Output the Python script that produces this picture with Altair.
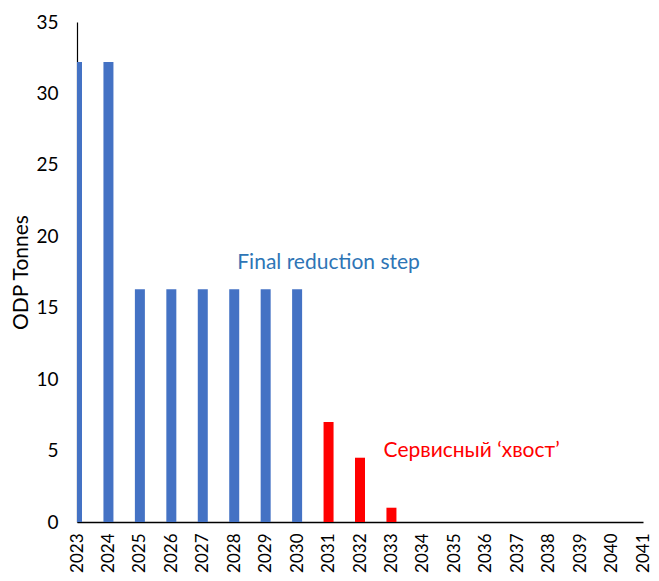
import altair as alt
import pandas as pd

years = list(range(2023, 2034))
values = [32.2, 32.2, 16.3, 16.3, 16.3, 16.3, 16.3, 16.3, 7.0, 4.5, 1.0]
groups = ["phase"] * 8 + ["tail"] * 3

tick_years = list(range(2023, 2042))
y_ticks = [0, 5, 10, 15, 20, 25, 30, 35]

ann_text = ["Final reduction step", "Сервисный ‘хвост’"]
ann_x = [2031.0, 2035.55]
ann_y = [18.1, 5.0]
ann_group = ["phase", "tail"]

bars = pd.DataFrame({"year": years, "value": values, "group": groups})
ann = pd.DataFrame({"text": ann_text, "x": ann_x, "y": ann_y, "group": ann_group})

FONT = "Lato"

xscale = alt.Scale(domain=[2023, 2041], nice=False, zero=False, padding=0)
yscale = alt.Scale(domain=[0, 35], nice=False, padding=0)

xaxis = alt.Axis(values=tick_years, format="d", labelAngle=-90,
                 ticks=False, labelPadding=11, title=None,
                 grid=False, domainColor="black", domainWidth=1.5,
                 labelFont=FONT, labelFontSize=17, labelColor="black",
                 labelOverlap=False, labelFlush=False, labelBound=False)
yaxis = alt.Axis(values=y_ticks, ticks=False, labelPadding=19,
                 title="ODP Tonnes", grid=False, domainColor="black",
                 domainWidth=1.2, labelFont=FONT, labelFontSize=19,
                 labelColor="black", titleFont=FONT, titleFontSize=21,
                 titleFontWeight="normal", titleColor="black",
                 titleX=-56, titleY=250, titleAngle=-90,
                 titleAlign="center", titleBaseline="middle")

bar_layer = alt.Chart(bars).mark_bar(size=10, clip=True).encode(
    x=alt.X("year:Q", scale=xscale, axis=xaxis),
    y=alt.Y("value:Q", scale=yscale, axis=yaxis),
    color=alt.Color("group:N", scale=alt.Scale(domain=["phase", "tail"],
                                               range=["#4472C4", "#FF0000"]),
                    legend=None),
)

text_layer = alt.Chart(ann).mark_text(font=FONT, fontSize=21, align="center",
                                      baseline="middle").encode(
    x=alt.X("x:Q", scale=xscale, axis=xaxis),
    y=alt.Y("y:Q", scale=yscale, axis=yaxis),
    text="text:N",
    color=alt.Color("group:N", scale=alt.Scale(domain=["phase", "tail"],
                                               range=["#2E75B6", "#FF0000"]),
                    legend=None),
)

chart = alt.layer(bar_layer, text_layer).resolve_scale(color="independent").properties(
    width=566, height=500,
    autosize=alt.AutoSizeParams(type="none"),
    padding={"left": 69, "top": 14, "right": 8, "bottom": 51},
).configure_view(stroke=None)

chart.save("out.html", embed_options={"renderer": "svg", "actions": False})
